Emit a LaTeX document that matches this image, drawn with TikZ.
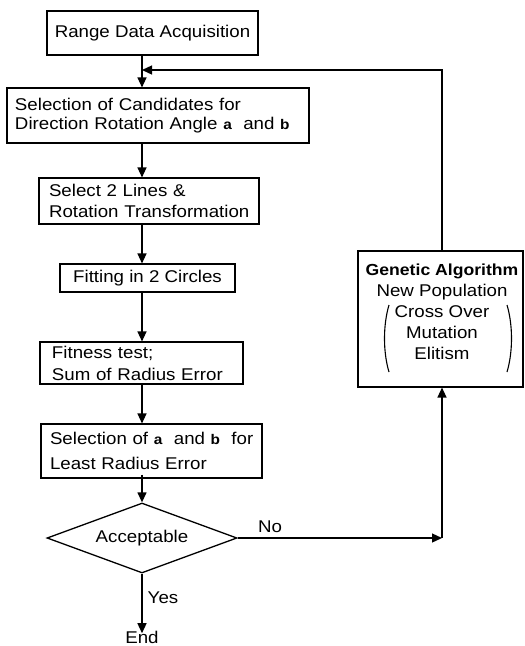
\documentclass[tikz,border=0pt]{standalone}
\usepackage{fontspec}
\setmainfont{Liberation Sans}[FakeStretch=1.1]
\usetikzlibrary{arrows.meta,shapes.geometric}
\newcommand\vara{\textbf{\fontsize{14}{16}\selectfont a}}
\newcommand\varb{\textbf{\fontsize{14}{16}\selectfont b}}
\begin{document}
\begin{tikzpicture}[x=1pt,y=-1pt,
  every node/.style={font=\fontsize{17}{21}\selectfont},
  box/.style={draw,line width=1.1pt,rectangle,inner ysep=0pt},
  paren/.style={line width=1.1pt},
  arr/.style={line width=1.3pt,-{Triangle[length=10pt,width=9pt]}}]
\useasboundingbox (0,0) rectangle (525,646);
\coordinate (spine) at (142,0);
\node[box,minimum width=211pt,minimum height=44pt] (b1) at (152.5,33) {Range Data Acquisition};
\node[box,minimum width=302pt,minimum height=55pt,inner xsep=8pt,text width=286pt,align=left,font=\fontsize{17}{19}\selectfont] (b2) at (158,115.5) {\mbox{Selection of Candidates for}\\\mbox{Direction Rotation Angle \vara\ \ and \varb}};
\node[box,minimum width=220pt,minimum height=46pt,inner xsep=10pt,text width=200pt,align=left] (b3) at (149,201) {\mbox{Select 2 Lines \&}\\\mbox{Rotation Transformation}};
\node[box,minimum width=175pt,minimum height=28pt] (b4) at (147.5,278) {Fitting in 2 Circles};
\node[box,minimum width=203pt,minimum height=42pt,inner xsep=12pt,text width=179pt,align=left,font=\fontsize{17}{22}\selectfont] (b5) at (141.5,363) {\mbox{Fitness test;}\\\mbox{Sum of Radius Error}};
\node[box,minimum width=221pt,minimum height=54pt,inner xsep=9pt,text width=203pt,align=left,font=\fontsize{17}{25}\selectfont] (b6) at (151.5,451) {\mbox{Selection of \vara\ \ and \varb\ \ for}\\\mbox{Least Radius Error}};
\node[draw,line width=1.3pt,diamond,aspect=2.714,minimum width=190pt,minimum height=70pt,inner sep=0pt] (dia) at (142,538) {Acceptable};
\node[box,minimum width=165pt,minimum height=136pt,inner sep=0pt] (ga) at (440.5,319) {};
\node[align=center,inner sep=0pt] (gatext) at (442,312) {{\fontsize{16}{21}\selectfont\bfseries Genetic Algorithm}\\New Population\\Cross Over\\Mutation\\Elitism};
\node (end) at (142,637) {End};
\coordinate (fb) at (142,70);
\coordinate (gax) at (442,0);
\coordinate (corner) at (gax |- dia.east);
\draw[paren] (389,305) .. controls (383,325) and (383,352) .. (389,372);
\draw[paren] (507,305) .. controls (513,325) and (513,352) .. (507,372);
\draw[arr] (b1.south -| spine) -- (b2.north -| spine);
\draw[arr] (b2.south -| spine) -- (b3.north -| spine);
\draw[arr] (b3.south -| spine) -- (b4.north -| spine);
\draw[arr] (b4.south -| spine) -- (b5.north -| spine);
\draw[arr] (b5.south -| spine) -- (b6.north -| spine);
\draw[arr] ([yshift=4pt]b6.south -| spine) -- (dia.north);
\draw[arr] (dia.south) -- ([yshift=-6pt]end.north);
\draw[arr] (dia.east) -- (corner);
\draw[arr] (corner) -- (ga.south -| gax);
\draw[arr] (ga.north -| gax) |- (fb);
\node at (270,527) {No};
\node at (163,598) {Yes};
\end{tikzpicture}
\end{document}
